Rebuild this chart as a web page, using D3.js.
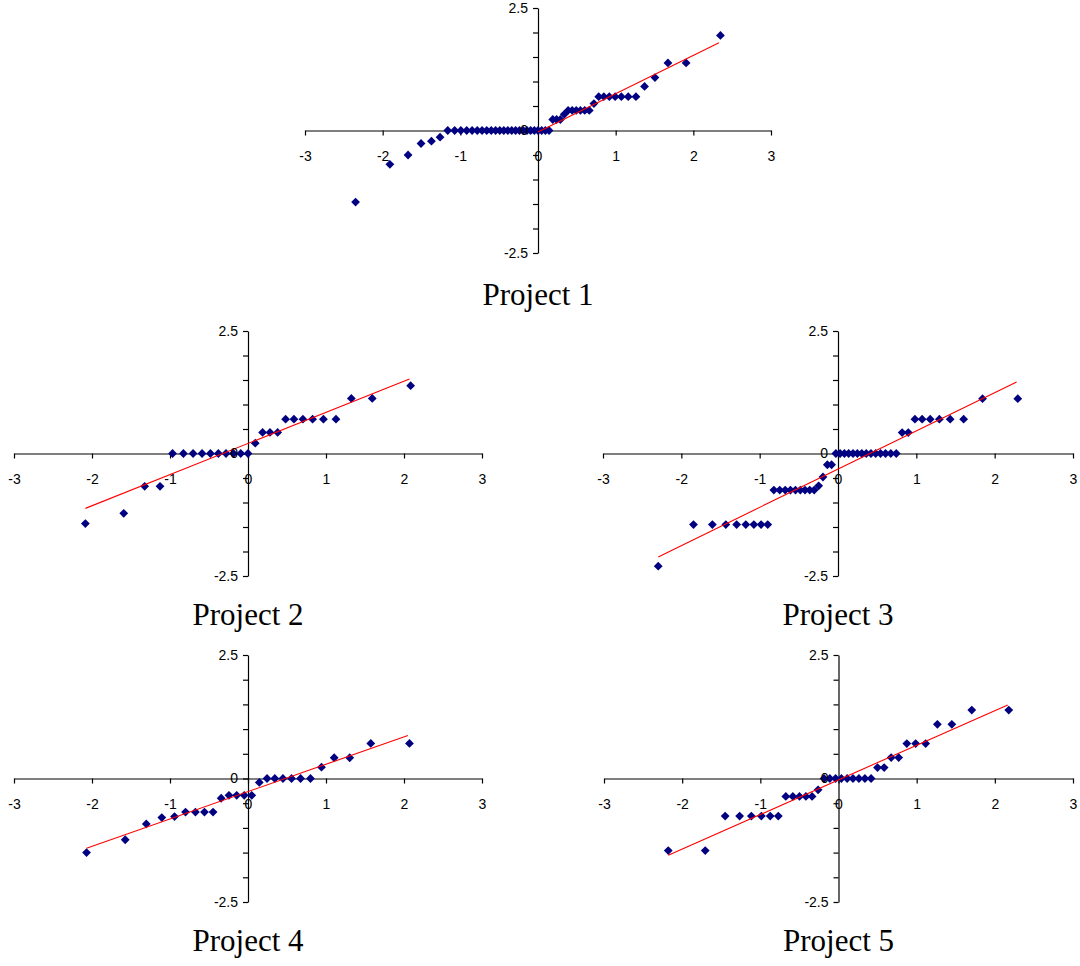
<!DOCTYPE html>
<html>
<head>
<meta charset="utf-8">
<script src="https://cdn.jsdelivr.net/npm/d3@7"></script>
<style>
  html, body { margin: 0; padding: 0; background: #fff; }
  svg { display: block; }
</style>
</head>
<body>
<script>
// Normal probability plots for five projects: normal scores (x) vs. standardized values (y)

const projectNames = ["Project 1", "Project 2", "Project 3", "Project 4", "Project 5"];

const xTickValues = [-3, -2, -1, 0, 1, 2, 3];
const xTickLabels = ["-3", "-2", "-1", "0", "1", "2", "3"];
const yTickValues = [-2.5, -2, -1.5, -1, -0.5, 0, 0.5, 1, 1.5, 2, 2.5];
const yTickLabels = ["-2.5", "", "", "", "", "0", "", "", "", "", "2.5"];

// Project 1
const p1Score = [-2.349, -1.907, -1.673, -1.506, -1.372, -1.261, -1.162, -1.073, -0.993, -0.918,
  -0.848, -0.782, -0.720, -0.660, -0.602, -0.546, -0.492, -0.440, -0.388, -0.338,
  -0.288, -0.239, -0.190, -0.142, -0.095, -0.047, 0, 0.047, 0.095, 0.142,
  0.190, 0.239, 0.288, 0.338, 0.388, 0.440, 0.492, 0.546, 0.602, 0.660,
  0.720, 0.782, 0.848, 0.918, 0.993, 1.073, 1.162, 1.261, 1.372, 1.506,
  1.673, 1.907, 2.349];
const p1Value = [-1.46, -0.69, -0.50, -0.265, -0.218, -0.136, 0, 0, 0, 0,
  0, 0, 0, 0, 0, 0, 0, 0, 0, 0,
  0, 0, 0, 0, 0, 0, 0, 0, 0, 0,
  0.224, 0.224, 0.224, 0.33, 0.41, 0.41, 0.41, 0.41, 0.41, 0.41,
  0.55, 0.69, 0.69, 0.69, 0.69, 0.69, 0.69, 0.69, 0.90, 1.08,
  1.38, 1.38, 1.94];
const p1Trend = [[0, -0.03], [2.33, 1.79]];

// Project 2
const p2Score = [-2.085, -1.593, -1.325, -1.128, -0.967, -0.828, -0.704, -0.589, -0.482, -0.380,
  -0.282, -0.187, -0.093, 0, 0.093, 0.187, 0.282, 0.380, 0.482, 0.589,
  0.704, 0.828, 0.967, 1.128, 1.325, 1.593, 2.085];
const p2Value = [-1.43, -1.22, -0.67, -0.67, 0, 0, 0, 0, 0, 0,
  0, 0, 0, 0, 0.21, 0.43, 0.43, 0.43, 0.70, 0.70,
  0.70, 0.70, 0.70, 0.70, 1.125, 1.125, 1.384];
const p2Trend = [[-2.085, -1.12], [2.07, 1.52]];

// Project 3
const p3Score = [-2.295, -1.845, -1.604, -1.432, -1.294, -1.177, -1.074, -0.982, -0.897, -0.819,
  -0.744, -0.674, -0.607, -0.543, -0.481, -0.421, -0.361, -0.304, -0.247, -0.192,
  -0.136, -0.082, -0.027, 0.027, 0.082, 0.136, 0.192, 0.247, 0.304, 0.361,
  0.421, 0.481, 0.543, 0.607, 0.674, 0.744, 0.819, 0.897, 0.982, 1.074,
  1.177, 1.294, 1.432, 1.604, 1.845, 2.295];
const p3Value = [-2.30, -1.45, -1.45, -1.45, -1.45, -1.45, -1.45, -1.45, -1.45, -0.746,
  -0.746, -0.746, -0.746, -0.746, -0.746, -0.746, -0.746, -0.746, -0.66, -0.48,
  -0.23, -0.23, 0, 0, 0, 0, 0, 0, 0, 0,
  0, 0, 0, 0, 0, 0, 0.427, 0.427, 0.70, 0.70,
  0.70, 0.70, 0.70, 0.70, 1.118, 1.118];
const p3Trend = [[-2.295, -2.11], [2.28, 1.46]];

// Project 4
const p4Score = [-2.070, -1.574, -1.304, -1.105, -0.942, -0.801, -0.674, -0.558, -0.448, -0.344,
  -0.244, -0.145, -0.048, 0.048, 0.145, 0.244, 0.344, 0.448, 0.558, 0.674,
  0.801, 0.942, 1.105, 1.304, 1.574, 2.070];
const p4Value = [-1.50, -1.24, -0.92, -0.79, -0.77, -0.68, -0.68, -0.68, -0.68, -0.40,
  -0.34, -0.34, -0.34, -0.34, -0.08, 0, 0, 0, 0, 0,
  0, 0.23, 0.42, 0.42, 0.71, 0.71];
const p4Trend = [[-2.07, -1.41], [2.05, 0.87]];

// Project 5
const p5Score = [-2.178, -1.705, -1.450, -1.265, -1.115, -0.987, -0.874, -0.770, -0.674, -0.584,
  -0.499, -0.417, -0.338, -0.261, -0.185, -0.111, -0.037, 0.037, 0.111, 0.185,
  0.261, 0.338, 0.417, 0.499, 0.584, 0.674, 0.770, 0.874, 0.987, 1.115,
  1.265, 1.450, 1.705, 2.178];
const p5Value = [-1.46, -1.46, -0.76, -0.76, -0.76, -0.76, -0.76, -0.76, -0.363, -0.363,
  -0.363, -0.363, -0.363, -0.229, 0, 0, 0, 0, 0, 0,
  0, 0, 0, 0.222, 0.222, 0.424, 0.424, 0.707, 0.707, 0.707,
  1.097, 1.097, 1.386, 1.386];
const p5Trend = [[-2.178, -1.555], [2.165, 1.49]];

const scores = [p1Score, p2Score, p3Score, p4Score, p5Score];
const values = [p1Value, p2Value, p3Value, p4Value, p5Value];
const trends = [p1Trend, p2Trend, p3Trend, p4Trend, p5Trend];

// Plot frames (pixel box of the [-3,3] x [-2.5,2.5] area) and title baselines
const frames = [
  { left: 305, top: 8,   width: 466, height: 245, titleY: 305 },
  { left: 14,  top: 331, width: 468, height: 245, titleY: 625 },
  { left: 603, top: 331, width: 470, height: 245, titleY: 625 },
  { left: 14,  top: 655, width: 468, height: 247, titleY: 951 },
  { left: 604, top: 655, width: 469, height: 247, titleY: 951 }
];

const W = 1080, H = 966;
const svg = d3.select("body").append("svg").attr("width", W).attr("height", H);

const tickFont = "'Liberation Sans', Arial, sans-serif";
const titleFont = "'Liberation Serif', 'Times New Roman', serif";
const markerColor = "#000080";
const trendColor = "#ff0000";
const r = 4.4;
const diamond = `M0,${-r}L${r},0L0,${r}L${-r},0Z`;

frames.forEach((f, i) => {
  const g = svg.append("g");
  const x = d3.scaleLinear().domain([-3, 3]).range([f.left, f.left + f.width]);
  const y = d3.scaleLinear().domain([-2.5, 2.5]).range([f.top + f.height, f.top]);

  const xAxis = d3.axisBottom(x).tickValues(xTickValues)
    .tickSizeInner(5).tickSizeOuter(0).tickPadding(16);
  const yAxis = d3.axisLeft(y).tickValues(yTickValues)
    .tickSizeInner(5).tickSizeOuter(0).tickPadding(5);

  // axis lines and tick marks
  const axesLines = g.append("g");
  axesLines.append("g").attr("transform", `translate(0,${y(0)})`)
    .call(xAxis.tickFormat(() => ""));
  axesLines.append("g").attr("transform", `translate(${x(0)},0)`)
    .call(yAxis.tickFormat(() => ""));
  axesLines.selectAll("path, line").attr("stroke", "#000").attr("stroke-width", 1.2);

  // data markers
  const pts = scores[i].map((s, k) => ({ s, v: values[i][k] }));
  g.append("g").selectAll("path")
    .data(pts).join("path")
    .attr("d", diamond)
    .attr("transform", d => `translate(${x(d.s)},${y(d.v)})`)
    .attr("fill", markerColor);

  // fitted line
  g.append("path")
    .datum(trends[i])
    .attr("d", d3.line().x(d => x(d[0])).y(d => y(d[1])))
    .attr("fill", "none")
    .attr("stroke", trendColor)
    .attr("stroke-width", 1.1);

  // tick labels on top
  const labels = g.append("g");
  labels.append("g").attr("transform", `translate(0,${y(0)})`)
    .call(xAxis.tickFormat((d, k) => xTickLabels[k]));
  labels.append("g").attr("transform", `translate(${x(0)},0)`)
    .call(yAxis.tickFormat((d, k) => yTickLabels[k]));
  labels.selectAll(".domain, line").remove();
  labels.selectAll("g").attr("font-family", tickFont).attr("font-size", 14);
  labels.selectAll("text").attr("fill", "#000");

  // panel title
  g.append("text")
    .attr("x", f.left + f.width / 2)
    .attr("y", f.titleY)
    .attr("text-anchor", "middle")
    .attr("font-family", titleFont)
    .attr("font-size", 31)
    .attr("fill", "#000")
    .text(projectNames[i]);
});
</script>
</body>
</html>
